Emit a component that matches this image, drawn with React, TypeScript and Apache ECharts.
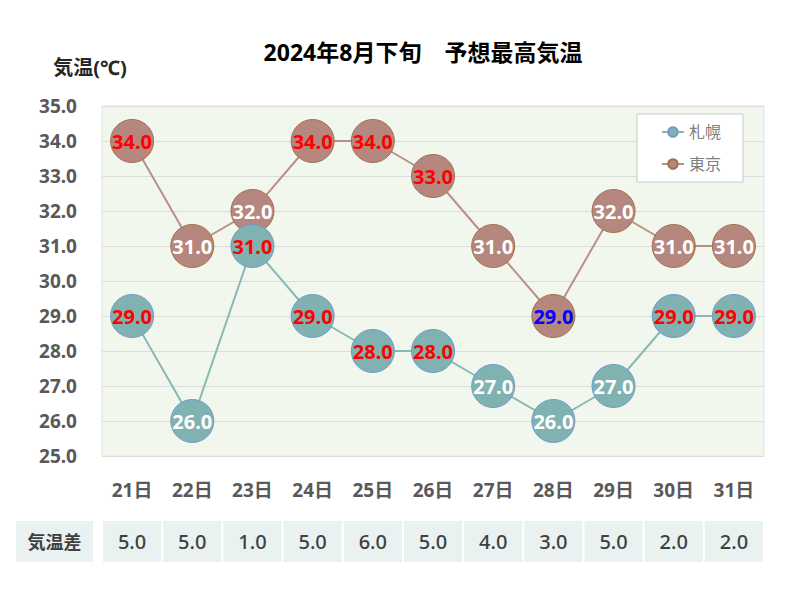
import React, { useEffect, useRef } from "react";
import * as echarts from "echarts";

const categories = ["21日", "22日", "23日", "24日", "25日", "26日", "27日", "28日", "29日", "30日", "31日"];
const sapporo = [29, 26, 31, 29, 28, 28, 27, 26, 27, 29, 29];
const tokyo = [34, 31, 32, 34, 34, 33, 31, 29, 32, 31, 31];
const diff = [5.0, 5.0, 1.0, 5.0, 6.0, 5.0, 4.0, 3.0, 5.0, 2.0, 2.0];
const yTicks = [25, 26, 27, 28, 29, 30, 31, 32, 33, 34, 35];

const FONT = "'Noto Sans', 'Noto Sans CJK JP', sans-serif";

function sapporoLabelColor(v: number) {
  return v >= 28 ? "#ff0000" : "#ffffff";
}
function tokyoLabelColor(v: number) {
  if (v <= 29) return "#0000ff";
  return v >= 33 ? "#ff0000" : "#ffffff";
}

export default function App() {
  const ref = useRef<HTMLDivElement>(null);
  useEffect(() => {
    if (!ref.current) return;
    const chart = echarts.init(ref.current, null, { renderer: "svg" });
    const labelBase = {
      show: true,
      position: "inside" as const,
      fontFamily: FONT,
      fontWeight: "bold" as const,
      fontSize: 20,
      formatter: (p: any) => Number(p.value).toFixed(1),
    };
    chart.setOption({
      animation: false,
      textStyle: { fontFamily: FONT },
      title: {
        text: "2024年8月下旬　予想最高気温",
        left: 418,
        textAlign: "center",
        top: 35,
        textStyle: { fontFamily: FONT, fontWeight: "bold", fontSize: 23, color: "#000000" },
      },
      legend: {
        orient: "vertical",
        right: 57,
        top: 114,
        backgroundColor: "#ffffff",
        borderColor: "#c8c8c8",
        borderWidth: 1,
        padding: [10, 22, 10, 24],
        itemGap: 16,
        itemWidth: 22,
        itemHeight: 12,
        textStyle: { fontFamily: FONT, fontSize: 16, color: "#808080" },
        data: ["札幌", "東京"],
      },
      grid: {
        left: 102,
        top: 106,
        right: 36,
        bottom: 144,
        show: true,
        backgroundColor: "#f2f7ed",
        borderColor: "#e2e2e2",
        borderWidth: 1,
      },
      xAxis: {
        type: "category",
        data: categories,
        boundaryGap: true,
        axisLine: { show: false },
        axisTick: { show: false },
        axisLabel: {
          margin: 24,
          fontFamily: FONT,
          fontWeight: "bold",
          fontSize: 19,
          color: "#595959",
        },
      },
      yAxis: {
        type: "value",
        min: yTicks[0],
        max: yTicks[yTicks.length - 1],
        interval: 1,
        name: "気温(℃)",
        nameLocation: "end",
        nameGap: 29,
        nameTextStyle: {
          fontFamily: FONT,
          fontWeight: "bold",
          fontSize: 20,
          color: "#262626",
          align: "center",
          padding: [0, 24, 0, 0],
        },
        axisLine: { show: false },
        axisTick: { show: false },
        splitLine: { lineStyle: { color: "#dcdcdc", width: 1 } },
        axisLabel: {
          margin: 25,
          fontFamily: FONT,
          fontWeight: "bold",
          fontSize: 19,
          color: "#595959",
          formatter: (v: number) => v.toFixed(1),
        },
      },
      series: [
        {
          name: "札幌",
          type: "line",
          z: 3,
          data: sapporo.map((v) => ({
            value: v,
            label: { color: sapporoLabelColor(v) },
          })),
          symbol: "circle",
          symbolSize: 43,
          lineStyle: { color: "#88b8b4", width: 2 },
          itemStyle: { color: "#7fb2b0", borderColor: "#7299cf", borderWidth: 1 },
          label: labelBase,
        },
        {
          name: "東京",
          type: "line",
          z: 2,
          data: tokyo.map((v) => ({
            value: v,
            label: { color: tokyoLabelColor(v) },
          })),
          symbol: "circle",
          symbolSize: 43,
          lineStyle: { color: "#b89088", width: 2 },
          itemStyle: { color: "#b5877f", borderColor: "#a3704d", borderWidth: 1 },
          label: labelBase,
        },
      ],
    });

    const rowTop = 521;
    const rowH = 41;
    const step = 662 / categories.length;
    const elements: any[] = [];
    elements.push({
      type: "rect",
      shape: { x: 16, y: rowTop, width: 77, height: rowH },
      style: { fill: "#e9f2f1" },
    });
    elements.push({
      type: "text",
      x: 54.5,
      y: rowTop + rowH / 2,
      style: {
        text: "気温差",
        fontFamily: FONT,
        fontWeight: "bold",
        fontSize: 18,
        fill: "#404040",
        align: "center",
        verticalAlign: "middle",
      },
    });
    diff.forEach((d, i) => {
      const cx = chart.convertToPixel({ xAxisIndex: 0 }, i) as number;
      elements.push({
        type: "rect",
        shape: { x: cx - step / 2 + 1, y: rowTop, width: step - 2, height: rowH },
        style: { fill: "#e9f2f1" },
      });
      elements.push({
        type: "text",
        x: cx,
        y: rowTop + rowH / 2,
        style: {
          text: d.toFixed(1),
          fontFamily: FONT,
          fontWeight: 500,
          fontSize: 20,
          fill: "#404040",
          align: "center",
          verticalAlign: "middle",
        },
      });
    });
    chart.setOption({ graphic: { elements } });

    return () => chart.dispose();
  }, []);
  return <div ref={ref} style={{ width: 800, height: 600, margin: -8 }} />;
}
